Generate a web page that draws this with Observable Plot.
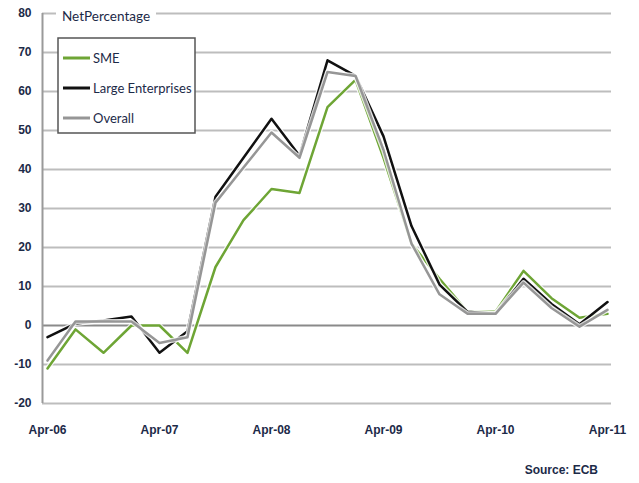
<!DOCTYPE html>
<html><head><meta charset="utf-8">
<script src="https://cdn.jsdelivr.net/npm/d3@7"></script>
<script src="https://cdn.jsdelivr.net/npm/@observablehq/plot@0.6"></script>
<style>
body{margin:0;background:#fff}
g[aria-label="y-axis tick label"] text, g[aria-label="x-axis tick label"] text {font-weight:bold}
</style>
</head><body><div id="chart"></div>
<script>
const quarters = ["Apr-06","Jul-06","Oct-06","Jan-07","Apr-07","Jul-07","Oct-07","Jan-08","Apr-08","Jul-08","Oct-08","Jan-09","Apr-09","Jul-09","Oct-09","Jan-10","Apr-10","Jul-10","Oct-10","Jan-11","Apr-11"];
const sme     = [-11, -1, -7, 0, 0, -7, 15, 27, 35, 34, 56, 63, 43, 21, 12, 3.5, 3.5, 14, 7, 2, 3];
const large   = [-3, 0.5, 1.3, 2.3, -7, -1.5, 33, 43, 53, 43.5, 68, 64, 48.5, 25.5, 10.5, 3.5, 3, 12, 5.5, 0.3, 6];
const overall = [-9, 1, 1, 1, -4.5, -3, 31.5, 40.5, 49.5, 43, 65, 64, 45, 21, 8, 3, 3, 11, 4.5, -0.3, 4];
const seriesNames = ["SME", "Large Enterprises", "Overall"];
const seriesColors = ["#6ea535", "#111111", "#969696"];
const yTicks = [-20, -10, 0, 10, 20, 30, 40, 50, 60, 70, 80];
const xTickLabels = ["Apr-06","Apr-07","Apr-08","Apr-09","Apr-10","Apr-11"];

const seriesValues = [sme, large, overall];
const rows = seriesValues.flatMap((vals, k) => vals.map((v, i) => ({series: seriesNames[k], i, v})));

const xMin = -5/28, xMax = 20 + 4/28;
const chart = Plot.plot({
  width: 639, height: 483,
  marginLeft: 42, marginRight: 28, marginTop: 13, marginBottom: 80,
  style: {fontFamily: "'Liberation Sans Narrow', 'Liberation Sans', Arial, sans-serif", fontSize: "12px", color: "#1c2a48", background: "#fff"},
  x: {domain: [xMin, xMax], ticks: xTickLabels.map(l => quarters.indexOf(l)), tickFormat: i => quarters[i], tickSize: 0, tickPadding: 22, label: null},
  y: {domain: [-20, 80], ticks: yTicks, tickFormat: d => String(d), tickSize: 0, tickPadding: 11, label: null},
  color: {domain: seriesNames, range: seriesColors},
  marks: [
    Plot.ruleY(yTicks.filter(d => d !== 0), {stroke: "#bdbdbd", strokeWidth: 2}),
    Plot.ruleY([0], {stroke: "#8a8a8a", strokeWidth: 2}),
    Plot.ruleX([xMin], {stroke: "#9a9a9a", strokeWidth: 2}),
    ...seriesNames.flatMap(name => [
      Plot.line(rows.filter(r => r.series === name), {x: "i", y: "v", stroke: "white", strokeWidth: 5, strokeOpacity: 0.8}),
      Plot.line(rows.filter(r => r.series === name), {x: "i", y: "v", stroke: "series", strokeWidth: 2.5})
    ])
  ]
});
document.getElementById("chart").appendChild(chart);

const svg = d3.select(chart);
const lf = "Lato, 'Open Sans', sans-serif";
// title label
svg.append("rect").attr("x", 56).attr("y", 5).attr("width", 100).attr("height", 17).attr("fill", "white");
svg.append("text").attr("x", 62).attr("y", 21).attr("text-anchor", "start").attr("font-family", lf).attr("font-size", 13.5).attr("fill", "#1c2a48").text("NetPercentage");
// legend
const lg = svg.append("g");
lg.append("rect").attr("x", 58).attr("y", 38).attr("width", 137).attr("height", 95).attr("fill", "white").attr("stroke", "#555").attr("stroke-width", 1.5);
seriesNames.forEach((name, k) => {
  const y = 58 + k * 30;
  lg.append("line").attr("x1", 63).attr("x2", 90).attr("y1", y).attr("y2", y).attr("stroke", seriesColors[k]).attr("stroke-width", 3);
  lg.append("text").attr("x", 93).attr("y", y + 4.5).attr("text-anchor", "start").attr("font-family", lf).attr("font-size", 13).attr("fill", "#1c2a48").text(name);
});
// source
svg.append("text").attr("x", 598).attr("y", 474).attr("text-anchor", "end").attr("font-weight", "bold").attr("font-size", 12).attr("fill", "#1c2a48").text("Source: ECB");
</script>
</body></html>
